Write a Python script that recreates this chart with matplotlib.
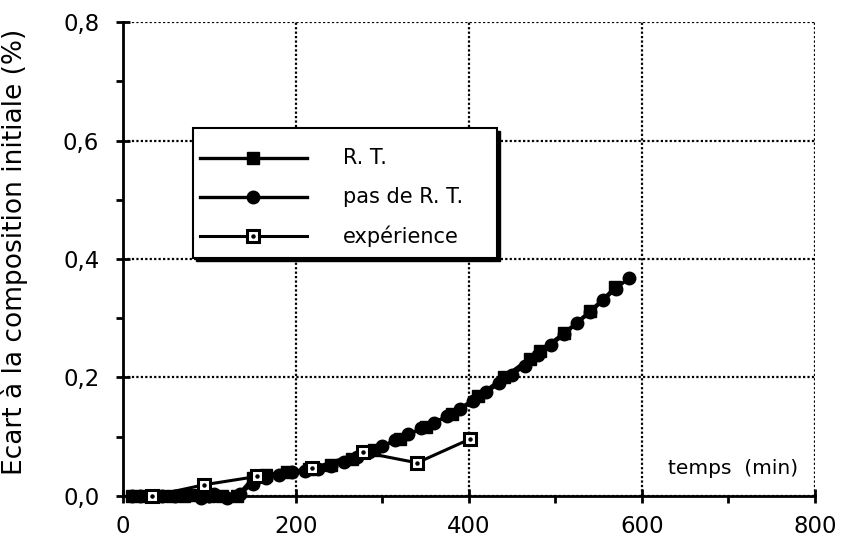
import matplotlib
matplotlib.use("Agg")
import matplotlib.pyplot as plt
from matplotlib.ticker import MultipleLocator, FuncFormatter
from matplotlib.patches import Rectangle

plt.rcParams['font.family'] = ['DejaVu Sans']

# Data
rt_x = [10, 25, 40, 55, 70, 85, 100, 115, 132, 150, 165, 190, 215, 240, 265,
        290, 320, 350, 380, 410, 440, 470, 482, 510, 540, 569]
rt_y = [0.0, 0.0, 0.0, 0.0, 0.0, 0.002, 0.0, 0.0, 0.0, 0.03, 0.036, 0.04, 0.045, 0.052, 0.063,
        0.078, 0.097, 0.117, 0.138, 0.168, 0.2, 0.232, 0.245, 0.275, 0.312, 0.352]

nrt_x = [10, 20, 30, 45, 60, 75, 90, 105, 120, 135, 150, 165, 180, 195, 210, 225,
         240, 255, 270, 285, 300, 315, 330, 345, 360, 375, 390, 405, 420, 435, 450,
         465, 480, 495, 510, 525, 540, 555, 570, 585]
nrt_y = [0.0, 0.0, 0.0, 0.0, 0.0, 0.004, -0.004, 0.004, -0.004, 0.004, 0.02, 0.03, 0.035, 0.04,
         0.042, 0.045, 0.05, 0.058, 0.066, 0.074, 0.084, 0.094, 0.104, 0.114, 0.124,
         0.135, 0.146, 0.16, 0.175, 0.19, 0.205, 0.22, 0.238, 0.255, 0.273, 0.292,
         0.31, 0.33, 0.35, 0.368]

exp_x = [34, 94, 155, 219, 277, 340, 401]
exp_y = [0.0, 0.019, 0.033, 0.047, 0.074, 0.056, 0.096]

labels = ["R. T.", "pas de R. T.", "expérience"]

fig = plt.figure(figsize=(8.44, 5.41), dpi=100)
ax = fig.add_axes([0.1457, 0.0832, 0.8199, 0.8761])

rt_style = dict(color='black', lw=2.4, marker='s', ms=9, mfc='black', mec='black')
nrt_style = dict(color='black', lw=2.4, marker='o', ms=9, mfc='black', mec='black')
exp_style = dict(color='black', lw=2.2, marker='s', ms=9, mfc='white', mec='black', mew=2.2)
dot_style = dict(ls='none', marker='o', ms=2.2, color='black')

ax.plot(nrt_x, nrt_y, clip_on=False, zorder=4, **nrt_style)
ax.plot(rt_x, rt_y, clip_on=False, zorder=5, **rt_style)
ax.plot(exp_x, exp_y, clip_on=False, zorder=6, **exp_style)
ax.plot(exp_x, exp_y, clip_on=False, zorder=7, **dot_style)

ax.set_xlim(0, 800)
ax.set_ylim(0, 0.8)
ax.xaxis.set_major_locator(MultipleLocator(200))
ax.xaxis.set_minor_locator(MultipleLocator(100))
ax.yaxis.set_major_locator(MultipleLocator(0.2))
ax.yaxis.set_minor_locator(MultipleLocator(0.1))
ax.yaxis.set_major_formatter(FuncFormatter(lambda v, p: f"{v:.1f}".replace('.', ',')))

ax.tick_params(which='major', direction='inout', length=10, width=2, labelsize=16.5)
ax.tick_params(which='minor', direction='out', length=5, width=2)
ax.tick_params(axis='x', which='major', pad=9)
ax.tick_params(axis='y', which='major', pad=12)

for s in ['top', 'right']:
    ax.spines[s].set_visible(False)
for s in ['left', 'bottom']:
    ax.spines[s].set_linewidth(2)

ax.grid(True, which='major', color='black', ls=(0, (1, 1)), lw=1.6)
ax.set_axisbelow(True)

ax.set_ylabel("Ecart à la composition initiale (%)", fontsize=19)
ax.yaxis.set_label_coords(-0.137, 0.515)
ax.text(705, 0.047, "temps  (min)", fontsize=14.5, ha='center', va='center')

# Legend box (axes fraction coordinates)
T = ax.transAxes
bx0, bx1, by0, by1 = 0.1012, 0.5405, 0.5021, 0.7764
sh_dx, sh_dy = 3 / 692, -3 / 474
ax.add_patch(Rectangle((bx0 + sh_dx, by0 + sh_dy), bx1 - bx0, by1 - by0, transform=T,
                       facecolor='black', edgecolor='black', zorder=9, clip_on=False))
ax.add_patch(Rectangle((bx0, by0), bx1 - bx0, by1 - by0, transform=T,
                       facecolor='white', edgecolor='black', lw=1.5, zorder=10, clip_on=False))
rows = [0.7131, 0.6308, 0.5485]
styles = [rt_style, nrt_style, exp_style]
lx0, lx1, lxm, tx = 0.1113, 0.2659, 0.1886, 0.3179
for yy, st, lab in zip(rows, styles, labels):
    ax.plot([lx0, lx1], [yy, yy], transform=T, color='black', lw=st['lw'], zorder=11, clip_on=False)
    ax.plot([lxm], [yy], transform=T, zorder=12, clip_on=False, **st)
    ax.text(tx, yy, lab, transform=T, fontsize=15, va='center', ha='left', zorder=12)
ax.plot([lxm], [rows[2]], transform=T, zorder=13, clip_on=False, **dot_style)

fig.savefig("out.png", dpi=100)
